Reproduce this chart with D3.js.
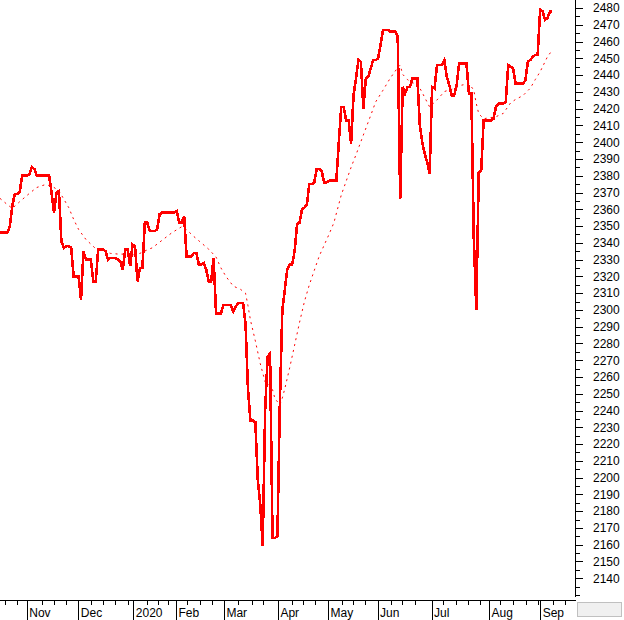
<!DOCTYPE html>
<html><head><meta charset="utf-8">
<script src="https://cdn.jsdelivr.net/npm/d3@7"></script>
<style>html,body{margin:0;padding:0;background:#fff;overflow:hidden}svg{display:block}</style>
</head><body>
<svg id="c" width="624" height="620"></svg>
<script>
// Daily closes, one per trading day (index 0 = mid-Oct 2019)
const values = [
2346,2346,2346,2346,2350,2362,2369,2369,2370,2380,
2380,2380,2381,2385,2384,2380,2380,2380,2380,2380,
2380,2370,2358,2370,2371,2341,2337,2338,2338,2337,
2320,2320,2320,2306,2335,2330,2330,2330,2317,2317,
2336,2336,2336,2335,2330,2331,2331,2331,2330,2329,
2324,2336,2336,2326,2339,2338,2317,2325,2325,2352,
2352,2347,2347,2347,2348,2357,2358,2358,2358,2358,
2358,2358,2359,2352,2352,2356,2332,2332,2332,2334,
2334,2327,2327,2328,2324,2317,2317,2331,2298,2298,
2298,2303,2303,2303,2303,2299,2302,2304,2304,2304,
2292,2253,2234,2234,2233,2199,2184,2159,2240,2272,
2274,2164,2164,2165,2245,2300,2312,2324,2327,2327,
2335,2351,2352,2360,2361,2363,2375,2375,2376,2384,
2384,2383,2376,2376,2377,2377,2377,2377,2400,2421,
2421,2413,2413,2399,2428,2438,2449,2448,2420,2438,
2439,2444,2449,2449,2450,2458,2467,2467,2467,2466,
2466,2466,2463,2366,2433,2429,2433,2433,2438,2438,
2438,2410,2400,2393,2388,2381,2433,2432,2446,2446,
2446,2449,2439,2434,2428,2428,2434,2447,2447,2447,
2447,2429,2429,2342,2300,2382,2383,2413,2413,2413,
2413,2414,2421,2423,2423,2423,2424,2446,2445,2444,
2435,2435,2435,2435,2437,2448,2449,2451,2452,2452,
2479,2478,2473,2474,2478,2478
];
// Moving average (dotted), read at sample days
const maDays = [0,2,5,8,12,15,18,20,22,24,26,28,30,32,35,39,41,45,48,52,54,57,60,62,66,70,74,76,79,81,85,88,90,92,95,98,100,101,102,104,106,108,109,111,112,114,115,116,118,120,122,124,126,130,134,136,139,143,145,148,151,153,156,159,162,163,164,166,168,170,172,174,175,178,181,183,185,188,191,193,194,195,197,202,205,208,210,213,216,218,220,222,223,225];
const maValues = [2366.5,2364,2360.5,2364.5,2369.5,2373,2374.5,2374.2,2373,2371,2366,2361,2354,2348,2342,2336.5,2335.8,2333.7,2333.3,2333.2,2332.8,2333.7,2335.8,2337,2341.5,2346,2349.6,2347.8,2343.7,2341.2,2336.2,2331.5,2325,2320,2314.2,2312.2,2310,2302.5,2294,2281.5,2268,2257,2256.4,2252.5,2247,2243.5,2247.5,2253,2265.5,2279,2292.5,2305,2315,2332,2345,2352,2368.5,2385,2392.5,2404.3,2416,2424,2431,2438.3,2444.5,2446,2440.5,2437.3,2435.3,2435,2429.5,2423.8,2421,2425.2,2430.2,2431.2,2432,2434,2435,2431,2423,2417,2414,2415.2,2417.2,2423.5,2425.5,2427.8,2432.2,2437.3,2442,2448,2451,2455];

const monthLabels = ["Nov","Dec","2020","Feb","Mar","Apr","May","Jun","Jul","Aug","Sep"];
const monthStarts = [10.9,31.9,54.3,71.7,91.2,113.2,133.6,153.8,175.8,199.2,220];
const weekTicks = [2,7,17,22,27,37,42,47,52.3,59.8,64.5,68.5,76,81.5,86.2,97,102.5,107,118.8,123.5,128.3,139.2,143.9,148.7,159.1,163.6,169,180.6,185.7,190.8,195.5,203.7,209.1,214.3,219.3,225.4,230.1];
const yMajorTicks = [2140,2150,2160,2170,2180,2190,2200,2210,2220,2230,2240,2250,2260,2270,2280,2290,2300,2310,2320,2330,2340,2350,2360,2370,2380,2390,2400,2410,2420,2430,2440,2450,2460,2470,2480];
const yMinorTicks = [2130,2135,2145,2155,2165,2175,2185,2195,2205,2215,2225,2235,2245,2255,2265,2275,2285,2295,2305,2315,2325,2335,2345,2355,2365,2375,2385,2395,2405,2415,2425,2435,2445,2455,2465,2475];

const plotRight = 575.5, plotBottom = 600;
const FONT = "'Liberation Sans', Arial, sans-serif";

const svg = d3.select("#c");
const x = d3.scaleLinear().domain([0, 234]).range([0, 574.5]);
const y = d3.scaleLinear().domain([2127, 2484.8]).range([600, 0]);

// Moving average
const maData = maDays.map((d, i) => [d, maValues[i]]);
svg.append("path")
  .datum(maData)
  .attr("fill", "none")
  .attr("stroke", "#ff0000")
  .attr("stroke-width", 1)
  .attr("stroke-dasharray", "2,4")
  .attr("d", d3.line().x(d => x(d[0])).y(d => y(d[1])));

// Main line
svg.append("path")
  .datum(values)
  .attr("fill", "none")
  .attr("stroke", "#ff0000")
  .attr("stroke-width", 2.6)
  .attr("stroke-linejoin", "miter")
  .attr("shape-rendering", "crispEdges")
  .attr("d", d3.line().x((d, i) => x(i)).y(d => y(d)));

// Right axis
const gy = svg.append("g").attr("transform", `translate(${plotRight},0)`);
gy.call(d3.axisRight(y).tickValues(yMinorTicks).tickSize(4).tickFormat("").tickSizeOuter(0));
gy.call(g => g.select(".domain").remove());
const gy2 = svg.append("g").attr("transform", `translate(${plotRight},0)`);
gy2.call(d3.axisRight(y).tickValues(yMajorTicks).tickSize(7).tickPadding(10.5).tickFormat(d3.format("d")).tickSizeOuter(0));
gy2.select(".domain").attr("d", `M0,0V597`);
gy2.selectAll("text").attr("font-family", FONT).attr("font-size", 12).attr("fill", "#000");

// Bottom axis: weekly ticks
const gx = svg.append("g").attr("transform", `translate(0,${plotBottom})`);
gx.call(d3.axisBottom(x).tickValues(weekTicks).tickSize(5).tickFormat("").tickSizeOuter(0));
gx.select(".domain").attr("d", `M0,0H${plotRight}`);
// Month separators
const gm = svg.append("g").attr("transform", `translate(0,${plotBottom})`);
gm.call(d3.axisBottom(x).tickValues(monthStarts).tickSize(20).tickFormat("").tickSizeOuter(0));
gm.select(".domain").remove();
gm.selectAll(".tick").append("text")
  .attr("x", 2).attr("y", 17)
  .attr("text-anchor", "start")
  .attr("font-family", FONT).attr("font-size", 12).attr("fill", "#000")
  .text((d, i) => monthLabels[i]);
svg.selectAll("g line, g path").attr("stroke", "#000").attr("shape-rendering", "crispEdges");

// small box bottom-right
svg.append("rect").attr("x", 577.5).attr("y", 602.5).attr("width", 44).attr("height", 14)
  .attr("fill", "#f0f0f0").attr("stroke", "#c0c0c0").attr("shape-rendering", "crispEdges");
</script>
</body></html>
